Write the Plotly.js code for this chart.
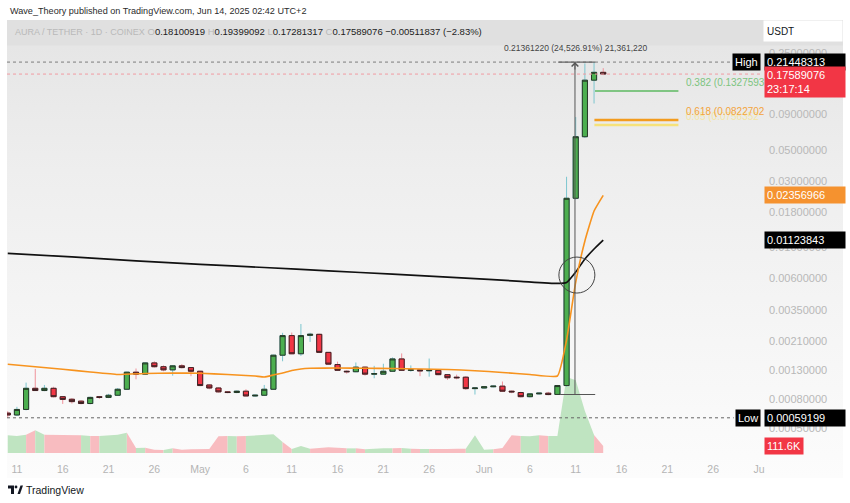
<!DOCTYPE html>
<html><head><meta charset="utf-8">
<script src="https://cdn.plot.ly/plotly-3.0.1.min.js"></script>
<style>
html,body{margin:0;padding:0;background:#fff;width:850px;height:503px;overflow:hidden;}
#bg{position:absolute;left:7px;top:20px;width:836px;height:458px;
background:linear-gradient(to bottom,#e0e0e0 0px,#e0e0e0 25px,#e6e6e6 26px,#eeeeee 150px,#f5f5f5 300px,#fcfcfc 458px);}
#chart{position:absolute;left:0;top:0;width:850px;height:503px;}
</style></head><body>
<div id="bg"></div><div id="chart"></div>
<script>
// ---- data (daily AURA/USDT candles, Apr 10 – Jun 14 2025) ----
const START_DAY = '2025-04-10';
const open = [0.00064,0.00062,0.00068,0.000965,0.00093,0.000965,0.00084,0.000805,0.00078,0.00075,
 0.00084,0.00083,0.00086,0.00095,0.00126,0.00122,0.00147,0.00138,0.00131,0.00140,
 0.00136,0.00128,0.00102,0.00097,0.00091,0.00090,0.00092,0.00085,0.00086,0.00095,
 0.00167,0.00231,0.00171,0.00232,0.00236,0.00175,0.00143,0.00128,0.00127,0.00137,
 0.00122,0.00122,0.00128,0.00157,0.00130,0.00131,0.00129,0.00130,0.00121,0.00116,
 0.00116,0.00096,0.00097,0.00099,0.00100,0.00092,0.00090,0.00084,0.00088,0.00089,
 0.000872,0.00101,0.02247,0.0623,0.159,0.18100919];
const high = [0.00066,0.00071,0.00106,0.00133,0.00102,0.00099,0.00085,0.00082,0.00079,0.00084,
 0.00085,0.00088,0.00097,0.00127,0.00134,0.00148,0.00151,0.00141,0.00142,0.00144,
 0.00137,0.00129,0.00103,0.00098,0.00092,0.00093,0.00095,0.00087,0.00102,0.00168,
 0.00242,0.00243,0.00280,0.00242,0.00238,0.00176,0.00150,0.00130,0.00148,0.00138,
 0.00140,0.00145,0.00161,0.00172,0.00141,0.00132,0.00158,0.00131,0.00122,0.00121,
 0.00118,0.00098,0.00100,0.00101,0.00108,0.00093,0.00091,0.00089,0.00090,0.00091,
 0.00102,0.0321,0.0863,0.2098,0.21448313,0.19399092];
const low = [0.00059199,0.00061,0.00067,0.00093,0.00092,0.00083,0.000745,0.00075,0.00074,0.00074,
 0.00081,0.00082,0.00085,0.00094,0.00112,0.00121,0.00136,0.00128,0.00119,0.00134,
 0.00118,0.00100,0.00095,0.00090,0.00089,0.00089,0.00085,0.00084,0.00085,0.00094,
 0.00151,0.00170,0.00165,0.00208,0.00173,0.00143,0.00129,0.00123,0.00126,0.00119,
 0.00114,0.00121,0.00127,0.00129,0.00127,0.00118,0.00117,0.00120,0.00111,0.00112,
 0.00094,0.00087,0.00096,0.00098,0.00091,0.00089,0.00083,0.00083,0.00087,0.00086,
 0.00087093,0.00099,0.0220,0.0610,0.108,0.17281317];
const close = [0.00062,0.00068,0.000965,0.00093,0.000965,0.00084,0.000803,0.000774,0.00075,0.00083,
 0.00083,0.00086,0.00095,0.00126,0.00122,0.00147,0.00138,0.00131,0.00140,0.00136,
 0.00128,0.00101,0.00097,0.00091,0.00090,0.00092,0.00085,0.00086,0.00095,0.00167,
 0.00231,0.00171,0.00231,0.00236,0.00175,0.00144,0.00130,0.00127,0.00137,0.00122,
 0.00123,0.00128,0.00157,0.00130,0.00131,0.00129,0.00130,0.00121,0.00115,0.00115,
 0.00096,0.00097,0.00099,0.00100,0.00092,0.00091,0.00084,0.00088,0.00089,0.00087,
 0.00101,0.02247,0.0623,0.159,0.18100919,0.17589076];
// volume in thousands
const volumeK = [282,271,292,362,292,292,292,292,282,271,
 271,282,292,324,80,85,53,48,75,53,
 59,64,64,266,271,266,271,282,292,298,
 175,64,112,69,80,90,85,74,74,58,
 69,74,74,80,69,64,64,58,64,69,
 69,282,53,58,80,282,271,266,282,271,
 271,1211,1159,670,287,111.6];

// moving averages
const maFastDates = ['2025-04-10','2025-04-13','2025-04-16','2025-04-19','2025-04-22','2025-04-25','2025-04-28','2025-05-01','2025-05-04','2025-05-07','2025-05-08','2025-05-09','2025-05-10','2025-05-11','2025-05-12','2025-05-13','2025-05-16','2025-05-19','2025-05-22','2025-05-25','2025-05-28','2025-05-31','2025-06-03','2025-06-06','2025-06-09','2025-06-10','2025-06-11','2025-06-12','2025-06-13','2025-06-14'];
const maFast = [0.001436,0.001380,0.001322,0.001264,0.001213,0.001233,0.001244,0.001237,0.001213,0.001183,0.001164,0.001203,0.001244,0.001296,0.001329,0.001344,0.001351,0.001344,0.001340,0.001329,0.001318,0.001292,0.001254,0.001213,0.001183,0.00215,0.00561,0.01108,0.0182,0.02356966];
const maSlowDates = ['2025-04-10','2025-04-17','2025-04-24','2025-05-01','2025-05-08','2025-05-15','2025-05-22','2025-05-29','2025-06-05','2025-06-09','2025-06-10','2025-06-11','2025-06-12','2025-06-13','2025-06-14'];
const maSlow = [0.00903,0.00850,0.00798,0.00753,0.00714,0.00676,0.00639,0.00604,0.00568,0.00548,0.00557,0.00663,0.00822,0.0097,0.01123843];

// key levels / drawings
const HIGH_VAL = 0.21448313, LOW_VAL = 0.00059199, RANGE_LOW = 0.00087093;
const FIB_382 = 0.1327593, FIB_618 = 0.0822702, FIB_65 = 0.0756352;
const CIRCLE_AT = ['2025-06-11 03:00', 0.0063];

const priceTicks = [0.25,0.09,0.05,0.03,0.018,0.01,0.006,0.0035,0.0021,0.0013,0.0008,0.0005];
const dateTicks = ['2025-04-11','2025-04-16','2025-04-21','2025-04-26','2025-05-01','2025-05-06','2025-05-11','2025-05-16','2025-05-21','2025-05-26','2025-06-01','2025-06-06','2025-06-11','2025-06-16','2025-06-21','2025-06-26','2025-07-01'];
const dateTickText = ['11','16','21','26','May','6','11','16','21','26','Jun','6','11','16','21','26','Ju'];

// ---- build ----
const n = open.length;
const t0 = Date.parse(START_DAY + 'T00:00:00Z');
const dates = open.map((_, i) => new Date(t0 + i * 86400000).toISOString().slice(0, 10));

const X_START = '2025-04-09 22:00', X_END = '2025-07-01 08:00';
const FIB_X0 = '2025-06-13 01:00', FIB_X1 = '2025-06-22 05:00', FIB_LABEL_X = '2025-06-22 20:00';
const PL = 7, PW = 755, PT = 45, PH = 408;
const px = x => (x - PL) / PW, py = y => (PT + PH - y) / PH;
const FONT = 'Liberation Sans, Arial, sans-serif';

const VOL_G = '#bfe4c1', VOL_R = '#f8bcc0';
const traces = [];

// volume as segment-coloured area
const up = i => close[i] >= open[i];
const runs = [];
for (let k = 1; k < n; k++) {
  const u = up(k);
  if (runs.length && runs[runs.length - 1].u === u) runs[runs.length - 1].e = k;
  else runs.push({u: u, s: k - 1, e: k});
}
runs.forEach(r => traces.push({
  type: 'scatter', mode: 'lines', x: dates.slice(r.s, r.e + 1), y: volumeK.slice(r.s, r.e + 1),
  fill: 'tozeroy', fillcolor: r.u ? VOL_G : VOL_R, line: {width: 0, color: r.u ? VOL_G : VOL_R},
  xaxis: 'x', yaxis: 'y', hoverinfo: 'skip'
}));

// moving averages
traces.push({type:'scatter', mode:'lines', x: maSlowDates, y: maSlow, line:{color:'#111', width:1.7, shape:'spline', smoothing:0.4}, yaxis:'y2', hoverinfo:'skip'});
traces.push({type:'scatter', mode:'lines', x: maFastDates, y: maFast, line:{color:'#f7931e', width:1.6, shape:'spline', smoothing:0.4}, yaxis:'y2', hoverinfo:'skip'});

// dotted level lines
traces.push({type:'scatter', mode:'lines', x:[X_START, '2025-06-28 04:00'], y:[HIGH_VAL, HIGH_VAL], line:{color:'#7d7d7d', width:1, dash:'dot'}, yaxis:'y2', hoverinfo:'skip'});
traces.push({type:'scatter', mode:'lines', x:[X_START, X_END], y:[close[n-1], close[n-1]], line:{color:'#f19aa2', width:1, dash:'dot'}, yaxis:'y2', hoverinfo:'skip'});
traces.push({type:'scatter', mode:'lines', x:[X_START, '2025-06-28 06:00'], y:[LOW_VAL, LOW_VAL], line:{color:'#666', width:1, dash:'dot'}, yaxis:'y2', hoverinfo:'skip'});

// price range measurement tool
traces.push({type:'scatter', mode:'lines', x:['2025-06-10 22:00','2025-06-10 22:00'], y:[RANGE_LOW, HIGH_VAL], line:{color:'#555', width:1}, yaxis:'y2', hoverinfo:'skip'});
traces.push({type:'scatter', mode:'lines', x:['2025-06-09 02:00','2025-06-13 03:00'], y:[HIGH_VAL, HIGH_VAL], line:{color:'#666', width:1.2}, yaxis:'y2', hoverinfo:'skip'});
traces.push({type:'scatter', mode:'lines', x:['2025-06-09 07:00','2025-06-13 03:00'], y:[RANGE_LOW, RANGE_LOW], line:{color:'#555', width:1}, yaxis:'y2', hoverinfo:'skip'});

// fib lines
traces.push({type:'scatter', mode:'lines', x:[FIB_X0, FIB_X1], y:[FIB_65, FIB_65], line:{color:'#f6e27a', width:2.5}, yaxis:'y2', hoverinfo:'skip'});
traces.push({type:'scatter', mode:'lines', x:[FIB_X0, FIB_X1], y:[FIB_618, FIB_618], line:{color:'#f39c1f', width:2.5}, yaxis:'y2', hoverinfo:'skip'});
traces.push({type:'scatter', mode:'lines', x:['2025-06-13 02:30', FIB_X1], y:[FIB_382, FIB_382], line:{color:'#5cb860', width:1.5}, yaxis:'y2', hoverinfo:'skip'});

// candles: wicks, then bodies with dark border
traces.push({type:'candlestick', x: dates, open: open, high: high, low: low, close: close, yaxis:'y2',
  increasing:{line:{color:'#7cc6cf', width:1}, fillcolor:'#7cc6cf'},
  decreasing:{line:{color:'#f0929b', width:1}, fillcolor:'#f0929b'}, hoverinfo:'skip'});
const bodyHi = open.map((o, i) => Math.max(o, close[i]));
const bodyLo = open.map((o, i) => Math.min(o, close[i]));
traces.push({type:'candlestick', x: dates, open: open, high: bodyHi, low: bodyLo, close: close, yaxis:'y2',
  increasing:{line:{color:'#263826', width:1}, fillcolor:'#4caf50'},
  decreasing:{line:{color:'#3a2224', width:1}, fillcolor:'#f23645'}, hoverinfo:'skip'});

// circle marker drawing
traces.push({type:'scatter', mode:'markers', x:[CIRCLE_AT[0]], y:[CIRCLE_AT[1]], yaxis:'y2',
  marker:{symbol:'circle-open', size:36, color:'#444', line:{color:'#444', width:1}}, hoverinfo:'skip'});

const boxFont = {family: FONT, size: 11, color: '#fff'};
const G = s => '<span style="color:#b9b9b9">' + s + '</span>';
const annotations = [
  {xref:'paper', yref:'paper', x: px(8), y: py(11), xanchor:'left', yanchor:'middle', showarrow:false,
   text:'Wave_Theory published on TradingView.com, Jun 14, 2025 02:42 UTC+2', font:{family:FONT, size:9.1, color:'#2b2b2b'}},
  {xref:'paper', yref:'paper', x: px(13), y: py(31.5), xanchor:'left', yanchor:'middle', showarrow:false,
   text:'<span style="color:#b9b9b9;font-size:9px">AURA / TETHER · 1D · COINEX</span> ' + G('O') + open[n-1].toFixed(8) +
        ' ' + G('H') + high[n-1].toFixed(8) +
        ' ' + G('L') + low[n-1].toFixed(8) +
        ' ' + G('C') + close[n-1].toFixed(8) + ' −0.00511837 (−2.83%)',
   font:{family:FONT, size:9.5, color:'#1c1c1c'}},
  {xref:'paper', yref:'paper', x: px(763), y: py(31), xanchor:'left', yanchor:'middle', showarrow:false,
   text:'USDT', align:'left', width:72, height:14, borderpad:3, bgcolor:'#ffffff', font:{family:FONT, size:10, color:'#131722'}},
  {xref:'x', yref:'paper', x:'2025-06-11', y: py(48), xanchor:'center', yanchor:'middle', showarrow:false,
   text:'0.21361220 (24,526.91%) 21,361,220', font:{family:FONT, size:8.5, color:'#444'}},
  {xref:'x', yref:'y2', x:'2025-06-10 22:00', y: Math.log10(HIGH_VAL), ax:0, ay:9, axref:'pixel', ayref:'pixel',
   showarrow:true, arrowhead:4, arrowsize:1.3, arrowwidth:1, arrowcolor:'#555', text:''},
  // fib labels
  {xref:'x', yref:'y2', x: FIB_LABEL_X, y: Math.log10(FIB_65), xanchor:'left', yanchor:'bottom', yshift:1, showarrow:false,
   text:'0.65 (' + FIB_65.toFixed(7), font:{family:FONT, size:10, color:'#f4e6a4'}},
  {xref:'x', yref:'y2', x: FIB_LABEL_X, y: Math.log10(FIB_618), xanchor:'left', yanchor:'bottom', yshift:1, showarrow:false,
   text:'0.618 (' + FIB_618.toFixed(7), font:{family:FONT, size:10, color:'#f3a43c'}},
  {xref:'x', yref:'y2', x: FIB_LABEL_X, y: Math.log10(FIB_382), xanchor:'left', yanchor:'bottom', yshift:1, showarrow:false,
   text:'0.382 (' + FIB_382.toFixed(7), font:{family:FONT, size:10, color:'#7cc47f'}},
  // price-scale labels
  {xref:'paper', yref:'y2', x:1, xshift:-1, y: Math.log10(HIGH_VAL), xanchor:'right', yanchor:'middle', showarrow:false,
   text:'High', bgcolor:'#000', borderpad:2, font: boxFont},
  {xref:'paper', yref:'y2', x:1, xshift:2, y: Math.log10(HIGH_VAL), xanchor:'left', yanchor:'middle', showarrow:false,
   text: HIGH_VAL.toFixed(8), width:76, align:'left', bgcolor:'#000', borderpad:2, font: boxFont},
  {xref:'paper', yref:'y2', x:1, xshift:2, y: Math.log10(close[n-1]), xanchor:'left', yanchor:'top', yshift:8, showarrow:false,
   text: close[n-1].toFixed(8) + '<br>23:17:14', width:76, align:'left', bgcolor:'#f23645', borderpad:2, font: boxFont},
  {xref:'paper', yref:'y2', x:1, xshift:2, y: Math.log10(maFast[maFast.length-1]), xanchor:'left', yanchor:'middle', showarrow:false,
   text: maFast[maFast.length-1].toFixed(8), width:76, align:'left', bgcolor:'#f5922f', borderpad:2, font: boxFont},
  {xref:'paper', yref:'y2', x:1, xshift:2, y: Math.log10(maSlow[maSlow.length-1]), xanchor:'left', yanchor:'middle', showarrow:false,
   text: maSlow[maSlow.length-1].toFixed(8), width:76, align:'left', bgcolor:'#000', borderpad:2, font: boxFont},
  {xref:'paper', yref:'y2', x:1, xshift:-1, y: Math.log10(LOW_VAL), xanchor:'right', yanchor:'middle', showarrow:false,
   text:'Low', bgcolor:'#000', borderpad:2, font: boxFont},
  {xref:'paper', yref:'y2', x:1, xshift:2, y: Math.log10(LOW_VAL), xanchor:'left', yanchor:'middle', showarrow:false,
   text: LOW_VAL.toFixed(8), width:76, align:'left', bgcolor:'#000', borderpad:2, font: boxFont},
  {xref:'paper', yref:'y', x:1, xshift:2, y: volumeK[n-1], xanchor:'left', yanchor:'middle', showarrow:false,
   text: volumeK[n-1].toFixed(1) + 'K', bgcolor:'#f23645', borderpad:2, font: boxFont},
  // footer
  {xref:'paper', yref:'paper', x: px(24), y: py(490), xanchor:'left', yanchor:'middle', showarrow:false,
   text:'TradingView', font:{family:FONT, size:10.5, color:'#131722'}}
];

const P = (x, y) => px(x).toFixed(5) + ',' + py(y).toFixed(5);
const shapes = [
  {type:'path', xref:'paper', yref:'paper', path:'M' + P(8,485.5) + 'L' + P(14,485.5) + 'L' + P(14,494) + 'L' + P(11,494) + 'L' + P(11,488.5) + 'L' + P(8,488.5) + 'Z', fillcolor:'#131722', line:{width:0}},
  {type:'circle', xref:'paper', yref:'paper', x0: px(14.6), x1: px(17.4), y0: py(488.5), y1: py(485.6), fillcolor:'#131722', line:{width:0}},
  {type:'path', xref:'paper', yref:'paper', path:'M' + P(17.5,494) + 'L' + P(20.5,485.5) + 'L' + P(23,485.5) + 'L' + P(20,494) + 'Z', fillcolor:'#131722', line:{width:0}}
];

const layout = {
  width: 850, height: 503,
  margin: {l: PL, r: 850 - PL - PW, t: PT, b: 503 - PT - PH, pad: 0},
  paper_bgcolor: 'rgba(0,0,0,0)', plot_bgcolor: 'rgba(0,0,0,0)',
  showlegend: false, boxgap: 0.2, hovermode: false,
  font: {family: FONT},
  xaxis: {type:'date', range:[X_START, X_END], showgrid:false, zeroline:false, showline:false, ticks:'',
          tickmode:'array', tickvals: dateTicks, ticktext: dateTickText, tickfont:{family:FONT, size:10.5, color:'#b4b4b4'},
          ticklabelstandoff: 8, rangeslider:{visible:false}, fixedrange:true},
  yaxis: {range:[0, 6505], visible:false, fixedrange:true},
  yaxis2: {type:'log', overlaying:'y', side:'right', range:[-3.48089, -0.54564], showgrid:false, zeroline:false,
           showline:false, ticks:'', tickmode:'array', tickvals: priceTicks, ticktext: priceTicks.map(v => v.toFixed(8)),
           tickfont:{family:FONT, size:11, color:'#b8b8b8'}, ticklabelstandoff:6, fixedrange:true},
  annotations: annotations,
  shapes: shapes
};

Plotly.newPlot('chart', traces, layout, {displayModeBar:false, staticPlot:true});
</script></body></html>
